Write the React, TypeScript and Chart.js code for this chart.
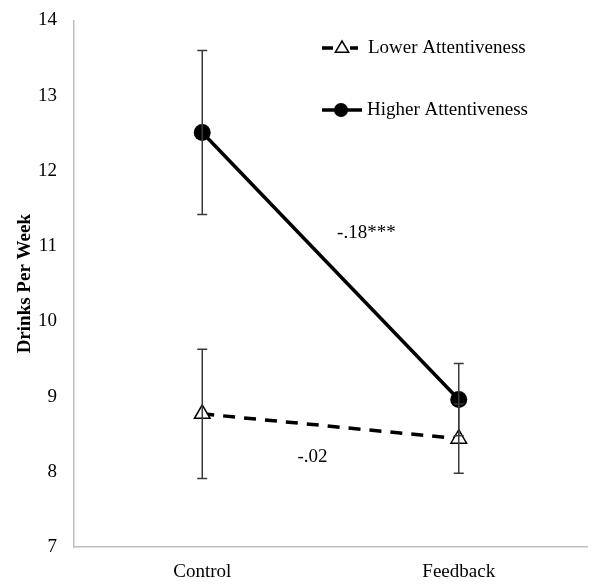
import React, { useEffect, useRef } from "react";
import { Chart, registerables } from "chart.js";

Chart.register(...registerables);

const categories = ["Control", "Feedback"];
const seriesNames = ["Lower Attentiveness", "Higher Attentiveness"];
const lowerValues = [8.77, 8.44];
const higherValues = [12.51, 8.96];
const lowerErrors = [0.86, 0.46];
const higherErrors = [1.09, 0.48];
const yTicks = [7, 8, 9, 10, 11, 12, 13, 14];
const yTitle = "Drinks Per Week";
const slopeLabels = ["-.02", "-.18***"];

const FONT = "'Liberation Serif', 'Times New Roman', serif";

export default function App() {
  const ref = useRef<HTMLCanvasElement | null>(null);

  useEffect(() => {
    document.body.style.margin = "0";
    const canvas = ref.current;
    if (!canvas) return;

    const errorBars = {
      id: "errorBars",
      afterDatasetsDraw(chart: any) {
        const ctx = chart.ctx;
        const xs = chart.scales.x;
        const ys = chart.scales.y;
        const sets = [
          { v: lowerValues, e: lowerErrors },
          { v: higherValues, e: higherErrors },
        ];
        ctx.save();
        ctx.strokeStyle = "#3a3a3a";
        ctx.lineWidth = 1.5;
        ctx.setLineDash([]);
        sets.forEach((s) => {
          s.v.forEach((val, i) => {
            const x = xs.getPixelForValue(i);
            const y1 = ys.getPixelForValue(val + s.e[i]);
            const y2 = ys.getPixelForValue(val - s.e[i]);
            ctx.beginPath();
            ctx.moveTo(x, y1);
            ctx.lineTo(x, y2);
            ctx.moveTo(x - 5, y1);
            ctx.lineTo(x + 5, y1);
            ctx.moveTo(x - 5, y2);
            ctx.lineTo(x + 5, y2);
            ctx.stroke();
          });
        });
        ctx.restore();
      },
    };

    const annotations = {
      id: "annotations",
      afterDraw(chart: any) {
        const ctx = chart.ctx;
        const xs = chart.scales.x;
        const ys = chart.scales.y;
        ctx.save();
        ctx.fillStyle = "#000";
        ctx.font = `19px ${FONT}`;
        ctx.textAlign = "center";
        ctx.textBaseline = "middle";
        ctx.fillText(slopeLabels[0], xs.getPixelForValue(0.43), ys.getPixelForValue(8.19));
        ctx.fillText(slopeLabels[1], xs.getPixelForValue(0.64), ys.getPixelForValue(11.17));

        // legend
        const lx = 322;
        const ly1 = 48;
        const ly2 = 110;
        ctx.strokeStyle = "#000";
        ctx.lineWidth = 3.5;
        ctx.beginPath();
        ctx.moveTo(lx, ly1);
        ctx.lineTo(lx + 11, ly1);
        ctx.moveTo(lx + 28, ly1);
        ctx.lineTo(lx + 36, ly1);
        ctx.stroke();
        const tx = lx + 20;
        const r = 7;
        ctx.lineWidth = 1.5;
        ctx.fillStyle = "#fff";
        ctx.beginPath();
        ctx.moveTo(tx, ly1 - r);
        ctx.lineTo(tx + r * 0.95, ly1 + r * 0.6);
        ctx.lineTo(tx - r * 0.95, ly1 + r * 0.6);
        ctx.closePath();
        ctx.fill();
        ctx.stroke();

        ctx.lineWidth = 3.5;
        ctx.beginPath();
        ctx.moveTo(lx, ly2);
        ctx.lineTo(lx + 40, ly2);
        ctx.stroke();
        ctx.fillStyle = "#000";
        ctx.beginPath();
        ctx.arc(lx + 19, ly2, 7, 0, Math.PI * 2);
        ctx.fill();

        ctx.fillStyle = "#000";
        ctx.textAlign = "left";
        ctx.fillText(seriesNames[0], 368, ly1);
        ctx.fillText(seriesNames[1], 367, ly2);
        ctx.restore();
      },
    };

    const chart = new Chart(canvas, {
      type: "line",
      data: {
        labels: categories,
        datasets: [
          {
            label: seriesNames[0],
            data: lowerValues,
            borderColor: "#000",
            borderWidth: 3.5,
            borderDash: [12, 9],
            pointStyle: "triangle",
            pointRadius: 9,
            pointBackgroundColor: "#fff",
            pointBorderColor: "#000",
            pointBorderWidth: 1.5,
            tension: 0,
            fill: false,
          },
          {
            label: seriesNames[1],
            data: higherValues,
            borderColor: "#000",
            borderWidth: 3.5,
            pointStyle: "circle",
            pointRadius: 8.5,
            pointBackgroundColor: "#000",
            pointBorderColor: "#000",
            pointBorderWidth: 0,
            tension: 0,
            fill: false,
          },
        ],
      },
      options: {
        responsive: false,
        animation: false,
        layout: { padding: { top: 8, right: 13, bottom: 0, left: 0 } },
        plugins: {
          legend: { display: false },
          tooltip: { enabled: false },
        },
        scales: {
          x: {
            offset: true,
            grid: { display: false },
            border: { display: true, color: "#bfbfbf", width: 1.5 },
            ticks: { color: "#000", font: { family: FONT, size: 19 }, padding: 6 },
            afterFit(scale: any) {
              scale.height = 39;
            },
          },
          y: {
            min: 7,
            max: 14,
            grid: { display: false },
            border: { display: true, color: "#bfbfbf", width: 1.5 },
            afterBuildTicks(scale: any) {
              scale.ticks = yTicks.map((v) => ({ value: v }));
            },
            ticks: { color: "#000", font: { family: FONT, size: 19 }, padding: 9 },
            title: {
              display: true,
              text: yTitle,
              color: "#000",
              font: { family: FONT, size: 19, weight: "bold" },
              padding: { top: 14, bottom: 0 },
            },
            afterFit(scale: any) {
              scale.width = 74;
            },
          },
        },
      },
      plugins: [errorBars, annotations],
    } as any);

    return () => chart.destroy();
  }, []);

  return <canvas ref={ref} width={600} height={586} style={{ display: "block" }} />;
}
